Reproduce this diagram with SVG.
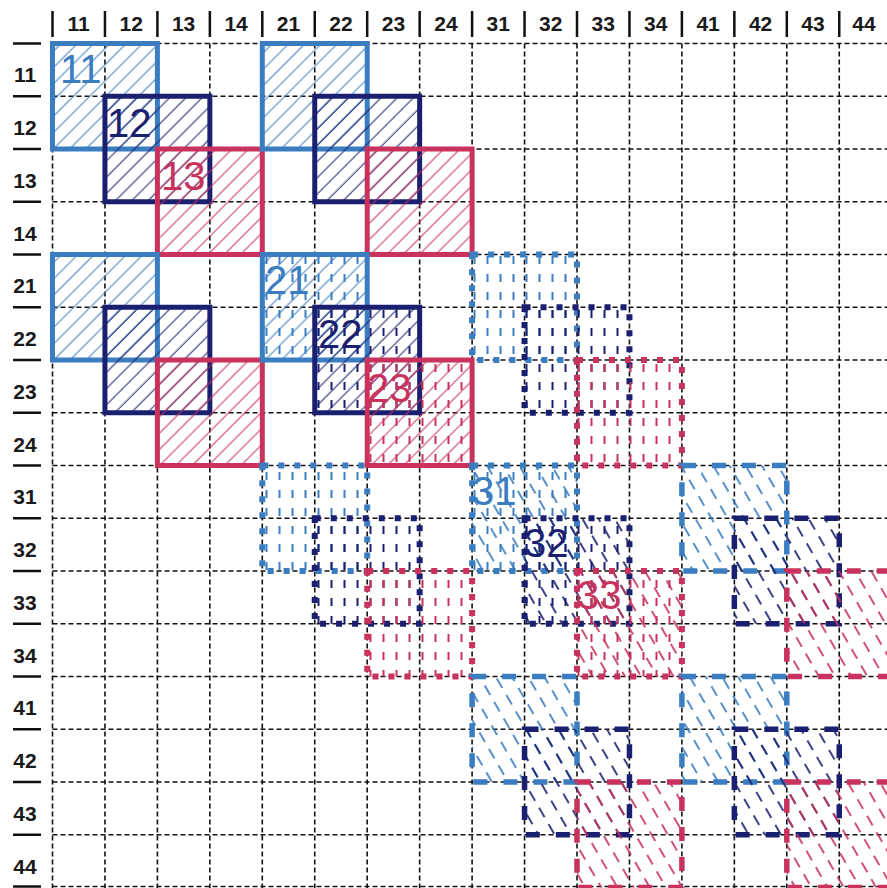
<svg xmlns="http://www.w3.org/2000/svg" width="887" height="888" viewBox="0 0 887 888">
<style>
.g{stroke:#111;stroke-width:1.6;stroke-dasharray:5 3;fill:none}
.tk{stroke:#111;stroke-width:2.5}
.hd{font-family:"Liberation Sans",Arial,sans-serif;font-size:21px;font-weight:bold;fill:#1a1a1a;text-anchor:middle}
.lb{font-family:"Liberation Sans",Arial,sans-serif;font-size:40px}
.B{stroke:#3a7dc0;fill:none;stroke-width:5}
.N{stroke:#1b1f70;fill:none;stroke-width:5}
.C{stroke:#c8325c;fill:none;stroke-width:5}
.dot{stroke-dasharray:6 10;stroke-width:6}
.dsh{stroke-dasharray:14 16;stroke-width:5.5}
.tB{fill:#3a7dc0}.tN{fill:#1b1f70}.tC{fill:#c8325c}
</style>
<defs>
<pattern id="fB" width="11.5" height="10" patternUnits="userSpaceOnUse" patternTransform="rotate(45)"><line x1="5" y1="0" x2="5" y2="10" stroke="#3a7dc0" stroke-width="1"/></pattern>
<pattern id="fN" width="11.5" height="10" patternUnits="userSpaceOnUse" patternTransform="rotate(45)"><line x1="5" y1="0" x2="5" y2="10" stroke="#1b1f70" stroke-width="1"/></pattern>
<pattern id="fC" width="11.5" height="10" patternUnits="userSpaceOnUse" patternTransform="rotate(45)"><line x1="5" y1="0" x2="5" y2="10" stroke="#c8325c" stroke-width="1"/></pattern>
<pattern id="vB" width="13" height="18" patternUnits="userSpaceOnUse"><line x1="6.5" y1="4" x2="6.5" y2="12" stroke="#3a7dc0" stroke-width="2"/></pattern>
<pattern id="vN" width="13" height="18" patternUnits="userSpaceOnUse"><line x1="6.5" y1="4" x2="6.5" y2="12" stroke="#1b1f70" stroke-width="2"/></pattern>
<pattern id="vC" width="13" height="18" patternUnits="userSpaceOnUse"><line x1="6.5" y1="4" x2="6.5" y2="12" stroke="#c8325c" stroke-width="2"/></pattern>
<pattern id="kB" width="14" height="19" patternUnits="userSpaceOnUse" patternTransform="rotate(-30)"><line x1="7" y1="0" x2="7" y2="11" stroke="#3a7dc0" stroke-width="1.7"/></pattern>
<pattern id="kN" width="14" height="19" patternUnits="userSpaceOnUse" patternTransform="rotate(-30)"><line x1="7" y1="0" x2="7" y2="11" stroke="#1b1f70" stroke-width="1.7"/></pattern>
<pattern id="kC" width="14" height="19" patternUnits="userSpaceOnUse" patternTransform="rotate(-30)"><line x1="7" y1="0" x2="7" y2="11" stroke="#c8325c" stroke-width="1.7"/></pattern>
</defs>
<rect width="887" height="888" fill="#fff"/>
<g id="headers">
<g class="tk">
<line x1="52.5" y1="11" x2="52.5" y2="37"/><line x1="104.95" y1="11" x2="104.95" y2="37"/><line x1="157.4" y1="11" x2="157.4" y2="37"/><line x1="209.85" y1="11" x2="209.85" y2="37"/><line x1="262.3" y1="11" x2="262.3" y2="37"/><line x1="314.75" y1="11" x2="314.75" y2="37"/><line x1="367.2" y1="11" x2="367.2" y2="37"/><line x1="419.65" y1="11" x2="419.65" y2="37"/><line x1="472.1" y1="11" x2="472.1" y2="37"/><line x1="524.55" y1="11" x2="524.55" y2="37"/><line x1="577" y1="11" x2="577" y2="37"/><line x1="629.45" y1="11" x2="629.45" y2="37"/><line x1="681.9" y1="11" x2="681.9" y2="37"/><line x1="734.35" y1="11" x2="734.35" y2="37"/><line x1="786.8" y1="11" x2="786.8" y2="37"/><line x1="839.25" y1="11" x2="839.25" y2="37"/>
<line x1="13" y1="43.5" x2="41" y2="43.5"/><line x1="13" y1="96.25" x2="41" y2="96.25"/><line x1="13" y1="149" x2="41" y2="149"/><line x1="13" y1="201.75" x2="41" y2="201.75"/><line x1="13" y1="254.5" x2="41" y2="254.5"/><line x1="13" y1="307.25" x2="41" y2="307.25"/><line x1="13" y1="360" x2="41" y2="360"/><line x1="13" y1="412.75" x2="41" y2="412.75"/><line x1="13" y1="465.5" x2="41" y2="465.5"/><line x1="13" y1="518.25" x2="41" y2="518.25"/><line x1="13" y1="571" x2="41" y2="571"/><line x1="13" y1="623.75" x2="41" y2="623.75"/><line x1="13" y1="676.5" x2="41" y2="676.5"/><line x1="13" y1="729.25" x2="41" y2="729.25"/><line x1="13" y1="782" x2="41" y2="782"/><line x1="13" y1="834.75" x2="41" y2="834.75"/><line x1="13" y1="886.5" x2="41" y2="886.5"/>
</g>
<g class="hd">
<text x="78.7" y="31">11</text><text x="131.2" y="31">12</text><text x="183.6" y="31">13</text><text x="236.1" y="31">14</text><text x="288.5" y="31">21</text><text x="341" y="31">22</text><text x="393.4" y="31">23</text><text x="445.9" y="31">24</text><text x="498.3" y="31">31</text><text x="550.8" y="31">32</text><text x="603.2" y="31">33</text><text x="655.7" y="31">34</text><text x="708.1" y="31">41</text><text x="760.6" y="31">42</text><text x="813" y="31">43</text><text x="864" y="31">44</text>
<text x="25" y="82.4">11</text><text x="25" y="135.1">12</text><text x="25" y="187.9">13</text><text x="25" y="240.6">14</text><text x="25" y="293.4">21</text><text x="25" y="346.1">22</text><text x="25" y="398.9">23</text><text x="25" y="451.6">24</text><text x="25" y="504.4">31</text><text x="25" y="557.1">32</text><text x="25" y="609.9">33</text><text x="25" y="662.6">34</text><text x="25" y="715.4">41</text><text x="25" y="768.1">42</text><text x="25" y="820.9">43</text><text x="25" y="873.6">44</text>
</g>
</g>
<g id="grid" class="g">
<line x1="52.5" y1="43.5" x2="52.5" y2="888"/><line x1="104.95" y1="43.5" x2="104.95" y2="888"/><line x1="157.4" y1="43.5" x2="157.4" y2="888"/><line x1="209.85" y1="43.5" x2="209.85" y2="888"/><line x1="262.3" y1="43.5" x2="262.3" y2="888"/><line x1="314.75" y1="43.5" x2="314.75" y2="888"/><line x1="367.2" y1="43.5" x2="367.2" y2="888"/><line x1="419.65" y1="43.5" x2="419.65" y2="888"/><line x1="472.1" y1="43.5" x2="472.1" y2="888"/><line x1="524.55" y1="43.5" x2="524.55" y2="888"/><line x1="577" y1="43.5" x2="577" y2="888"/><line x1="629.45" y1="43.5" x2="629.45" y2="888"/><line x1="681.9" y1="43.5" x2="681.9" y2="888"/><line x1="734.35" y1="43.5" x2="734.35" y2="888"/><line x1="786.8" y1="43.5" x2="786.8" y2="888"/><line x1="839.25" y1="43.5" x2="839.25" y2="888"/>
<line x1="52.5" y1="43.5" x2="887" y2="43.5"/><line x1="52.5" y1="96.25" x2="887" y2="96.25"/><line x1="52.5" y1="149" x2="887" y2="149"/><line x1="52.5" y1="201.75" x2="887" y2="201.75"/><line x1="52.5" y1="254.5" x2="887" y2="254.5"/><line x1="52.5" y1="307.25" x2="887" y2="307.25"/><line x1="52.5" y1="360" x2="887" y2="360"/><line x1="52.5" y1="412.75" x2="887" y2="412.75"/><line x1="52.5" y1="465.5" x2="887" y2="465.5"/><line x1="52.5" y1="518.25" x2="887" y2="518.25"/><line x1="52.5" y1="571" x2="887" y2="571"/><line x1="52.5" y1="623.75" x2="887" y2="623.75"/><line x1="52.5" y1="676.5" x2="887" y2="676.5"/><line x1="52.5" y1="729.25" x2="887" y2="729.25"/><line x1="52.5" y1="782" x2="887" y2="782"/><line x1="52.5" y1="834.75" x2="887" y2="834.75"/><line x1="52.5" y1="886.5" x2="887" y2="886.5"/>
</g>
<g id="connectors"/>
<g id="sq11"><rect x="52.5" y="43.5" width="104.9" height="105.5" fill="url(#fB)"/><rect class="B" x="52.5" y="43.5" width="104.9" height="105.5"/><text class="lb tB" x="60" y="83">11</text></g>
<g id="sq12"><rect x="104.95" y="96.25" width="104.9" height="105.5" fill="url(#fN)"/><rect class="N" x="104.95" y="96.25" width="104.9" height="105.5"/><text class="lb tN" x="107" y="137">12</text></g>
<g id="sq13"><rect x="157.4" y="149" width="104.9" height="105.5" fill="url(#fC)"/><rect class="C" x="157.4" y="149" width="104.9" height="105.5"/><text class="lb tC" x="161" y="190">13</text></g>
<g id="b12-1"><rect x="262.3" y="43.5" width="104.9" height="105.5" fill="url(#fB)"/><rect class="B" x="262.3" y="43.5" width="104.9" height="105.5"/></g>
<g id="b12-2"><rect x="314.75" y="96.25" width="104.9" height="105.5" fill="url(#fN)"/><rect class="N" x="314.75" y="96.25" width="104.9" height="105.5"/></g>
<g id="b12-3"><rect x="367.2" y="149" width="104.9" height="105.5" fill="url(#fC)"/><rect class="C" x="367.2" y="149" width="104.9" height="105.5"/></g>
<g id="b21-1"><rect x="52.5" y="254.5" width="104.9" height="105.5" fill="url(#fB)"/><rect class="B" x="52.5" y="254.5" width="104.9" height="105.5"/></g>
<g id="b21-2"><rect x="104.95" y="307.25" width="104.9" height="105.5" fill="url(#fN)"/><rect class="N" x="104.95" y="307.25" width="104.9" height="105.5"/></g>
<g id="b21-3"><rect x="157.4" y="360" width="104.9" height="105.5" fill="url(#fC)"/><rect class="C" x="157.4" y="360" width="104.9" height="105.5"/></g>
<g id="sq21"><rect x="262.3" y="254.5" width="104.9" height="105.5" fill="url(#fB)"/><rect x="262.3" y="254.5" width="104.9" height="105.5" fill="url(#vB)"/><rect class="B" x="262.3" y="254.5" width="104.9" height="105.5"/><text class="lb tB" x="265" y="294">21</text></g>
<g id="sq22"><rect x="314.75" y="307.25" width="104.9" height="105.5" fill="url(#fN)"/><rect x="314.75" y="307.25" width="104.9" height="105.5" fill="url(#vN)"/><rect class="N" x="314.75" y="307.25" width="104.9" height="105.5"/><text class="lb tN" x="318" y="348">22</text></g>
<g id="sq23"><rect x="367.2" y="360" width="104.9" height="105.5" fill="url(#fC)"/><rect x="367.2" y="360" width="104.9" height="105.5" fill="url(#vC)"/><rect class="C" x="367.2" y="360" width="104.9" height="105.5"/><text class="lb tC" x="367" y="402">23</text></g>
<g id="b23-1"><rect x="472.1" y="254.5" width="104.9" height="105.5" fill="url(#vB)"/><rect class="B dot" x="472.1" y="254.5" width="104.9" height="105.5"/></g>
<g id="b23-2"><rect x="524.55" y="307.25" width="104.9" height="105.5" fill="url(#vN)"/><rect class="N dot" x="524.55" y="307.25" width="104.9" height="105.5"/></g>
<g id="b23-3"><rect x="577" y="360" width="104.9" height="105.5" fill="url(#vC)"/><rect class="C dot" x="577" y="360" width="104.9" height="105.5"/></g>
<g id="b32-1"><rect x="262.3" y="465.5" width="104.9" height="105.5" fill="url(#vB)"/><rect class="B dot" x="262.3" y="465.5" width="104.9" height="105.5"/></g>
<g id="b32-2"><rect x="314.75" y="518.25" width="104.9" height="105.5" fill="url(#vN)"/><rect class="N dot" x="314.75" y="518.25" width="104.9" height="105.5"/></g>
<g id="b32-3"><rect x="367.2" y="571" width="104.9" height="105.5" fill="url(#vC)"/><rect class="C dot" x="367.2" y="571" width="104.9" height="105.5"/></g>
<g id="sq31"><rect x="472.1" y="465.5" width="104.9" height="105.5" fill="url(#vB)"/><rect x="472.1" y="465.5" width="104.9" height="105.5" fill="url(#kB)"/><rect class="B dot" x="472.1" y="465.5" width="104.9" height="105.5"/><text class="lb tB" x="472" y="505">31</text></g>
<g id="sq32"><rect x="524.55" y="518.25" width="104.9" height="105.5" fill="url(#vN)"/><rect x="524.55" y="518.25" width="104.9" height="105.5" fill="url(#kN)"/><rect class="N dot" x="524.55" y="518.25" width="104.9" height="105.5"/><text class="lb tN" x="524" y="557">32</text></g>
<g id="sq33"><rect x="577" y="571" width="104.9" height="105.5" fill="url(#vC)"/><rect x="577" y="571" width="104.9" height="105.5" fill="url(#kC)"/><rect class="C dot" x="577" y="571" width="104.9" height="105.5"/><text class="lb tC" x="577" y="609">33</text></g>
<g id="b34-1"><rect x="681.9" y="465.5" width="104.9" height="105.5" fill="url(#kB)"/><rect class="B dsh" x="681.9" y="465.5" width="104.9" height="105.5"/></g>
<g id="b34-2"><rect x="734.35" y="518.25" width="104.9" height="105.5" fill="url(#kN)"/><rect class="N dsh" x="734.35" y="518.25" width="104.9" height="105.5"/></g>
<g id="b34-3"><rect x="786.8" y="571" width="104.9" height="105.5" fill="url(#kC)"/><rect class="C dsh" x="786.8" y="571" width="104.9" height="105.5"/></g>
<g id="b43-1"><rect x="472.1" y="676.5" width="104.9" height="105.5" fill="url(#kB)"/><rect class="B dsh" x="472.1" y="676.5" width="104.9" height="105.5"/></g>
<g id="b43-2"><rect x="524.55" y="729.25" width="104.9" height="105.5" fill="url(#kN)"/><rect class="N dsh" x="524.55" y="729.25" width="104.9" height="105.5"/></g>
<g id="b43-3"><rect x="577" y="782" width="104.9" height="105.5" fill="url(#kC)"/><rect class="C dsh" x="577" y="782" width="104.9" height="105.5"/></g>
<g id="b44-1"><rect x="681.9" y="676.5" width="104.9" height="105.5" fill="url(#kB)"/><rect class="B dsh" x="681.9" y="676.5" width="104.9" height="105.5"/></g>
<g id="b44-2"><rect x="734.35" y="729.25" width="104.9" height="105.5" fill="url(#kN)"/><rect class="N dsh" x="734.35" y="729.25" width="104.9" height="105.5"/></g>
<g id="b44-3"><rect x="786.8" y="782" width="104.9" height="105.5" fill="url(#kC)"/><rect class="C dsh" x="786.8" y="782" width="104.9" height="105.5"/></g>
</svg>
